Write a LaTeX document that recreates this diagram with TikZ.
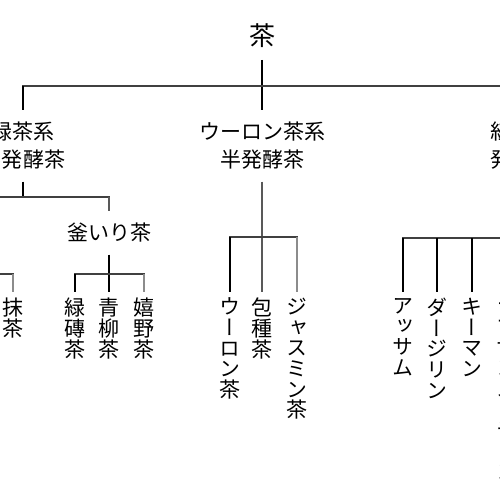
\documentclass[tikz,border=0pt]{standalone}
\usepackage{fontspec}
\setmainfont{Noto Sans CJK JP}
\newfontfamily\cjkv{Noto Sans CJK JP}[RawFeature=+vert]
\begin{document}
\begin{tikzpicture}[x=1pt,y=-1pt,
  root/.style={font=\fontsize{26}{26}\selectfont, inner sep=0pt, outer xsep=0pt, outer ysep=12pt},
  cat/.style={font=\fontsize{21}{28}\selectfont, align=center, inner sep=0pt, outer xsep=0pt, outer ysep=12pt},
  leaf/.style={font=\cjkv\fontsize{21}{20.7}\selectfont, align=center, inner sep=0pt, outer xsep=0pt, outer ysep=6pt, anchor=north},
  bar/.style={draw=black!75, line width=1.8pt, line cap=rect},
  stem/.style={draw=black, line width=1.4pt},
  midstem/.style={draw=black!65, line width=2pt},
  pale/.style={draw=black!45, line width=2pt}]
\useasboundingbox (0,0) rectangle (500,500);
\clip (0,0) rectangle (500,500);
\fill[white] (0,0) rectangle (500,500);

% nodes
\node[root] (cha) at (262,36) {茶};
\node[cat] (ryoku) at (23,146) {緑茶系\\不発酵茶};
\node[cat] (oolong) at (262,146) {ウーロン茶系\\半発酵茶};
\node[cat] (kocha) at (522,146) {紅茶系\\発酵茶};
\node[cat] (kama) at (109,233) {釜いり茶};

\node[leaf] (maccha) at (13,292) {抹\\茶};
\node[leaf] (ryokusen) at (75,292) {緑\\磚\\茶};
\node[leaf] (aoyagi) at (109,292) {青\\柳\\茶};
\node[leaf] (ureshino) at (144,292) {嬉\\野\\茶};
\node[leaf] (ooc) at (230,292) {ウ\\ー\\ロ\\ン\\茶};
\node[leaf] (houshu) at (262,292) {包\\種\\茶};
\node[leaf] (jas) at (297,292) {ジ\\ャ\\ス\\ミ\\ン\\茶};
\node[leaf] (assam) at (403,292) {ア\\ッ\\サ\\ム};
\node[leaf] (darj) at (437,292) {ダ\\ー\\ジ\\リ\\ン};
\node[leaf] (keemun) at (472,292) {キ\\ー\\マ\\ン};
\node[leaf] (lap) at (507,292) {ラ\\プ\\サ\\ン\\ス\\ー\\チ\\ョ\\ン};

% bar levels and off-picture ends
\coordinate (h1) at (0,86);
\coordinate (h2) at (0,197);
\coordinate (h3) at (0,237);
\coordinate (h4) at (0,274);
\coordinate (h5) at (0,238);
\coordinate (offL2) at (-40,197);
\coordinate (offL4) at (-40,274);
\coordinate (offR5) at (560,238);

% top level
\draw[stem] (cha) -- (oolong);
\draw[bar] (ryoku.north |- h1) -- (kocha.north |- h1);
\draw[stem] (ryoku.north |- h1) -- (ryoku.north);
\draw[stem] (kocha.north |- h1) -- (kocha.north);

% green tea
\draw[stem] (ryoku.south) -- (ryoku.south |- h2);
\draw[bar] (offL2) -- (kama.north |- h2);
\draw[midstem] (kama.north |- h2) -- (kama.north);

\draw[bar] (offL4) -- (maccha.north |- h4);
\draw[pale] (maccha.north |- h4) -- (maccha.north);

\draw[stem] (kama) -- (aoyagi);
\draw[bar] (ryokusen.north |- h4) -- (ureshino.north |- h4);
\draw[stem] (ryokusen.north |- h4) -- (ryokusen.north);
\draw[pale] (ureshino.north |- h4) -- (ureshino.north);

% oolong
\draw[midstem] (oolong) -- (houshu);
\draw[bar] (ooc.north |- h3) -- (jas.north |- h3);
\draw[stem] (ooc.north |- h3) -- (ooc.north);
\draw[pale] (jas.north |- h3) -- (jas.north);

% black tea
\draw[stem] (kocha.south) -- (kocha.south |- h5);
\draw[bar] (assam.north |- h5) -- (offR5);
\draw[stem] (assam.north |- h5) -- (assam.north);
\draw[stem] (darj.north |- h5) -- (darj.north);
\draw[stem] (keemun.north |- h5) -- (keemun.north);
\draw[stem] (lap.north |- h5) -- (lap.north);
\end{tikzpicture}
\end{document}
